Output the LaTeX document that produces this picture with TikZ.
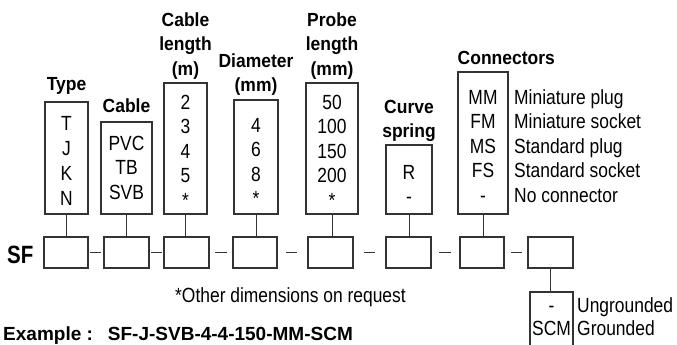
\documentclass[tikz,border=0pt]{standalone}
\usepackage{fontspec}
\setmainfont{Liberation Sans}[FakeStretch=0.85, BoldFeatures={FakeStretch=0.92}]
\newfontfamily\exfont{Liberation Sans}
\newfontfamily\sffnt{Liberation Sans}[FakeStretch=0.82]
\definecolor{boxc}{HTML}{333333}
\begin{document}
\begin{tikzpicture}[x=1pt,y=-1pt,
  box/.style={draw=boxc, line width=1.1pt, inner sep=0pt},
  txt/.style={font=\fontsize{20.5}{24}\selectfont, inner sep=0pt, anchor=base},
  desc/.style={font=\fontsize{20.5}{24}\selectfont, inner sep=0pt, anchor=base west},
  hdr/.style={font=\bfseries\fontsize{19}{24}\selectfont, inner sep=0pt, anchor=base},
  link/.style={draw=boxc, line width=1pt}]
\useasboundingbox (0,0) rectangle (677,345);
% top boxes
\node[box, minimum width=43, minimum height=112] (type) at (66.5,158) {};
\node[box, minimum width=51, minimum height=92] (cable) at (126.5,168) {};
\node[box, minimum width=43, minimum height=131] (clen) at (185.5,148.5) {};
\node[box, minimum width=44, minimum height=114] (diam) at (256,157) {};
\node[box, minimum width=52, minimum height=131] (probe) at (332,148.5) {};
\node[box, minimum width=46, minimum height=69] (curve) at (409,179.5) {};
\node[box, minimum width=50, minimum height=142] (conn) at (483,143) {};
% bottom boxes
\node[box, minimum width=44, minimum height=31] (b1) at (66,252.5) {};
\node[box, minimum width=45, minimum height=31] (b2) at (126.5,252.5) {};
\node[box, minimum width=45, minimum height=31] (b3) at (186.5,252.5) {};
\node[box, minimum width=44, minimum height=31] (b4) at (255,252.5) {};
\node[box, minimum width=45, minimum height=31] (b5) at (330.5,252.5) {};
\node[box, minimum width=45, minimum height=31] (b6) at (408.5,252.5) {};
\node[box, minimum width=44, minimum height=31] (b7) at (482,252.5) {};
\node[box, minimum width=45, minimum height=31] (b8) at (550.5,252.5) {};
\node[box, minimum width=43, minimum height=68] (scm) at (551.5,326) {};
% connectors
\draw[link] (type.south) -- (type.south |- b1.north);
\draw[link] (cable.south) -- (cable.south |- b2.north);
\draw[link] (clen.south) -- (clen.south |- b3.north);
\draw[link] (diam.south) -- (diam.south |- b4.north);
\draw[link] (probe.south) -- (probe.south |- b5.north);
\draw[link] (curve.south) -- (curve.south |- b6.north);
\draw[link] (conn.south) -- (conn.south |- b7.north);
\draw[link] (b8.south) -- (b8.south |- scm.north);
% dashes
\foreach \xa/\xb in {90/101,151/162,215/227,286/297,364/375,439/451,511/522}
  \draw[link] (\xa,252.5) -- (\xb,252.5);
% headers
\node[hdr] (h1) at (66.5,90) {Type};
\node[hdr] (h2) at (126.5,112) {Cable};
\node[hdr] (h3a) at (185.5,27) {Cable};
\node[hdr] (h3b) at (185.5,51) {length};
\node[hdr] (h3c) at (185.5,75) {(m)};
\node[hdr] (h4a) at (256,67) {Diameter};
\node[hdr] (h4b) at (256,91) {(mm)};
\node[hdr] (h5a) at (332,27) {Probe};
\node[hdr] (h5b) at (332,51) {length};
\node[hdr] (h5c) at (332,75) {(mm)};
\node[hdr] (h6a) at (409,113) {Curve};
\node[hdr] (h6b) at (409,137) {spring};
\node[hdr, anchor=base west] (h7) at (457.5,65) {Connectors};
% contents
\foreach \t/\yy [count=\i] in {T/130,J/155,K/180,N/205}
  \node[txt, name=ty\i] at (66.5,\yy) {\t};
\foreach \t/\yy [count=\i] in {PVC/150,TB/174.5,SVB/199}
  \node[txt, name=cb\i] at (126.5,\yy) {\t};
\foreach \t/\yy [count=\i] in {2/109,3/133.5,4/158,5/182.5,*/207}
  \node[txt, name=cl\i] at (185.5,\yy) {\t};
\foreach \t/\yy [count=\i] in {4/132,6/156.5,8/181,*/205.5}
  \node[txt, name=dm\i] at (256,\yy) {\t};
\foreach \t/\yy [count=\i] in {50/109,100/133.5,150/158,200/182.5,*/207}
  \node[txt, name=pr\i] at (332,\yy) {\t};
\foreach \t/\yy [count=\i] in {R/179,-/203.5}
  \node[txt, name=cs\i] at (409,\yy) {\t};
\foreach \t/\d/\yy [count=\i] in {MM/Miniature plug/104,FM/Miniature socket/128.5,MS/Standard plug/153,FS/Standard socket/177.5,-/No connector/202}{
  \node[txt, name=cn\i] at (483,\yy) {\t};
  \node[desc, name=cd\i] at (514,\yy) {\d};
}
\node[txt] (g1) at (551.5,312) {-};
\node[txt] (g2) at (551.5,335) {SCM};
\node[desc] (gd1) at (577,312) {Ungrounded};
\node[desc] (gd2) at (577,335) {Grounded};
% other texts
\node[anchor=base west, inner sep=0pt, font=\sffnt\bfseries\fontsize{25}{30}\selectfont] (sf) at (7,263) {SF};
\node[desc] (note) at (175,302) {*Other dimensions on request};
\node[anchor=base west, inner sep=0pt, font=\exfont\bfseries\fontsize{19}{24}\selectfont] (ex) at (3,340.5) {Example :\hspace{15pt}SF-J-SVB-4-4-150-MM-SCM};
\end{tikzpicture}
\end{document}
